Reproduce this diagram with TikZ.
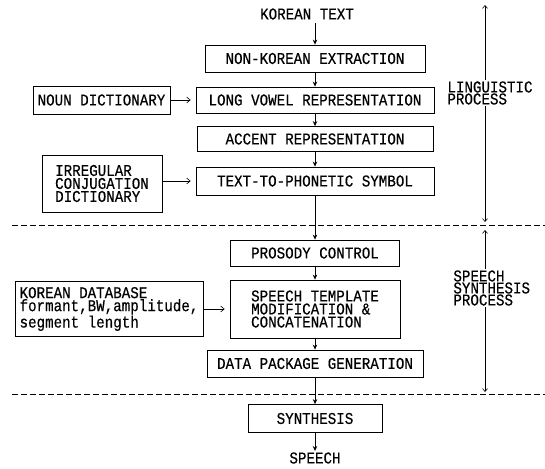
\documentclass[tikz,border=0pt]{standalone}
\usepackage{fontspec}
\setmainfont{Liberation Mono}[FakeStretch=0.86,FakeBold=0.4]
\usetikzlibrary{arrows.meta}

\begin{document}
\begin{tikzpicture}[x=1pt,y=-1pt,line width=0.8pt,
  font=\fontsize{16.5pt}{13pt}\selectfont,
  blk/.style={draw,inner sep=2pt},
  lbl/.style={inner sep=1pt,fill=white,align=left,font=\fontsize{16.5pt}{12pt}\selectfont},
  flow/.style={-{Stealth[length=5pt,width=4.5pt]}},
  feed/.style={-{Straight Barb[length=3.5pt,width=6pt]},line width=0.6pt,shorten >=5pt},
  span/.style={-{Straight Barb[length=3pt,width=5pt]},line width=0.6pt},
  sep/.style={dash pattern=on 6pt off 3pt,line width=0.6pt}]
\useasboundingbox (0,0) rectangle (545,468);

% linguistic part
\node (src) at (307,14) {KOREAN TEXT};
\node[blk,minimum width=220,minimum height=27] (nke) at (315,58.5) {NON-KOREAN EXTRACTION};
\node[blk,minimum width=238,minimum height=26] (lv) at (315,100) {LONG VOWEL REPRESENTATION};
\node[blk,minimum width=236,minimum height=25] (acc) at (315,139) {ACCENT REPRESENTATION};
\node[blk,minimum width=238,minimum height=28] (ttp) at (315,181) {TEXT-TO-PHONETIC SYMBOL};
\node[blk,minimum width=137,minimum height=28] (noun) at (101.5,100) {NOUN DICTIONARY};
\node[blk,minimum width=120,minimum height=57,align=left] (irr) at (102,183.5) {IRREGULAR\\CONJUGATION\\DICTIONARY};

\draw[flow] (src.south -| nke.north) -- (nke.north);
\draw[flow] (nke) -- (lv);
\draw[flow] (lv) -- (acc);
\draw[flow] (acc) -- (ttp);
\draw[feed] (noun) -- (lv);
\draw[feed] (irr.east |- ttp.west) -- (ttp.west);

\draw[sep] (12,225) -- (545,225);

% synthesis part
\node[blk,minimum width=169,minimum height=26] (prs) at (315,253) {PROSODY CONTROL};
\node[blk,minimum width=170,minimum height=58,align=left] (stm) at (315,309) {SPEECH TEMPLATE\\MODIFICATION \&\\CONCATENATION};
\node[blk,minimum width=188,minimum height=55,align=left] (kdb) at (109,309) {KOREAN DATABASE\\formant,BW,amplitude,\\segment length};
\node[blk,minimum width=216,minimum height=27] (dpg) at (315,363.5) {DATA PACKAGE GENERATION};

\draw[flow] (ttp) -- (prs);
\draw[flow] (prs) -- (stm);
\draw[flow] (stm) -- (dpg);
\draw[feed] (kdb) -- (stm);

\draw[sep] (12,394) -- (545,394);

\node[blk,minimum width=134,minimum height=28] (syn) at (315,418.5) {SYNTHESIS};
\node[inner sep=1pt] (out) at (315,458) {SPEECH};
\draw[flow] (dpg) -- (syn);
\draw[flow] (syn) -- (out);

% process spans on the right
\coordinate (lt) at (485,5);
\coordinate (lb) at (485,222);
\coordinate (st) at (485,230);
\coordinate (sb) at (485,392);
\node[lbl,anchor=west] (ling) at (446,93) {LINGUISTIC\\PROCESS};
\node[lbl,anchor=west] (synp) at (452,288) {SPEECH\\SYNTHESIS\\PROCESS};
\draw[span] (ling.north -| lt) -- (lt);
\draw[span] (ling.south -| lb) -- (lb);
\draw[span] (synp.north -| st) -- (st);
\draw[span] (synp.south -| sb) -- (sb);
\end{tikzpicture}
\end{document}
